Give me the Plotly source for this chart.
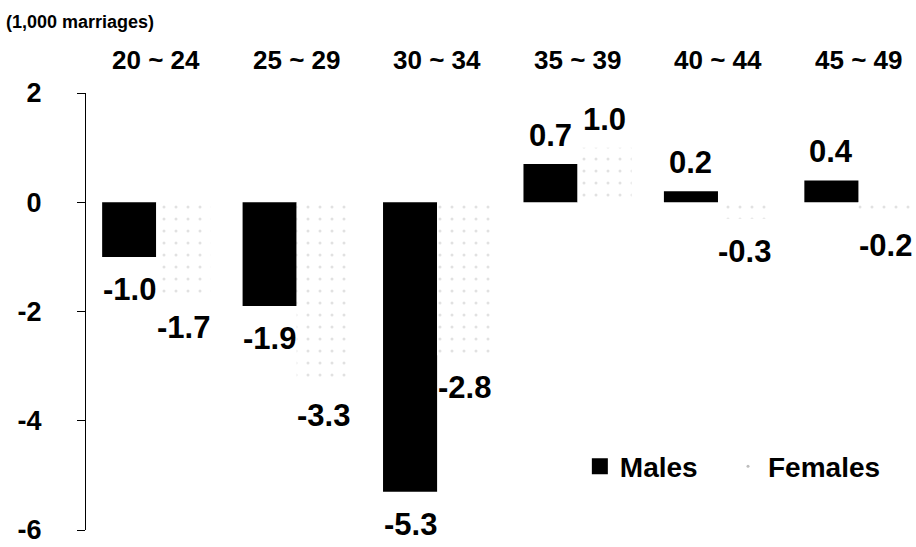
import plotly.graph_objects as go

categories = ["20 ~ 24", "25 ~ 29", "30 ~ 34", "35 ~ 39", "40 ~ 44", "45 ~ 49"]
males = [-1.0, -1.9, -5.3, 0.7, 0.2, 0.4]
females = [-1.7, -3.3, -2.8, 1.0, -0.3, -0.2]
y_ticks = [2, 0, -2, -4, -6]
unit_label = "(1,000 marriages)"

SANS = "Liberation Sans, Arial, sans-serif"

fig = go.Figure()
fig.add_trace(go.Bar(
    name="Males", x=categories, y=males, showlegend=False,
    marker=dict(color="black", line=dict(width=0)),
))
fig.add_trace(go.Bar(
    name="Females", x=categories, y=females, showlegend=False,
    marker=dict(color="white", line=dict(width=0),
                pattern=dict(shape=".", fgcolor="#c4c4c4", bgcolor="white",
                             size=12, solidity=0.05)),
))
# legend entries
fig.add_trace(go.Scatter(
    name="Males", x=[None], y=[None], mode="markers", legend="legend",
    marker=dict(symbol="square", size=16, color="black"),
))
fig.add_trace(go.Scatter(
    name="Females", x=[None], y=[None], mode="markers", legend="legend2",
    marker=dict(symbol="circle", size=3, color="#bdbdbd"),
))

annotations = []
for series, shift in ((males, -27), (females, 27)):
    for cat, v in zip(categories, series):
        annotations.append(dict(
            x=cat, y=v, xref="x", yref="y", text=f"{v:.1f}", showarrow=False,
            xshift=shift, yanchor="bottom" if v >= 0 else "top",
            yshift=9 if v >= 0 else -13,
            font=dict(family=SANS, size=31, color="black", weight="bold"),
        ))
# category labels along the top
for cat in categories:
    annotations.append(dict(
        x=cat, y=1, xref="x", yref="paper", text=cat, showarrow=False,
        yshift=16, yanchor="bottom",
        font=dict(family=SANS, size=26, color="black", weight="bold"),
    ))
annotations.append(dict(
    x=0, y=1, xref="paper", yref="paper", text=unit_label, showarrow=False,
    xanchor="left", yanchor="bottom", xshift=-82, yshift=59,
    font=dict(family=SANS, size=18, color="black", weight="bold"),
))

legend_font = dict(family=SANS, size=28, color="black", weight="bold")
fig.update_layout(
    width=916, height=547,
    margin=dict(l=86, r=0, t=93, b=17, autoexpand=False),
    paper_bgcolor="white", plot_bgcolor="white",
    barmode="group", bargap=0.23, bargroupgap=0,
    showlegend=True,
    legend=dict(x=0.595, y=0.145, xanchor="left", yanchor="middle",
                font=legend_font, bgcolor="rgba(0,0,0,0)", itemwidth=30),
    legend2=dict(x=0.7735, y=0.145, xanchor="left", yanchor="middle",
                 font=legend_font, bgcolor="rgba(0,0,0,0)", itemwidth=30),
    annotations=annotations,
)
fig.update_xaxes(range=[-0.5, 5.41], showticklabels=False, showline=False,
                 showgrid=False, zeroline=False, ticks="")
fig.update_yaxes(range=[-6, 2], tickvals=y_ticks, ticktext=[str(t) for t in y_ticks],
                 showgrid=False, zeroline=False, showline=True, linecolor="black",
                 linewidth=1, ticks="outside", ticklen=8, tickcolor="black",
                 ticklabelstandoff=30, ticklabeloverflow="allow",
                 tickfont=dict(family=SANS, size=27, color="black", weight="bold"))

fig.write_html("out.html")
